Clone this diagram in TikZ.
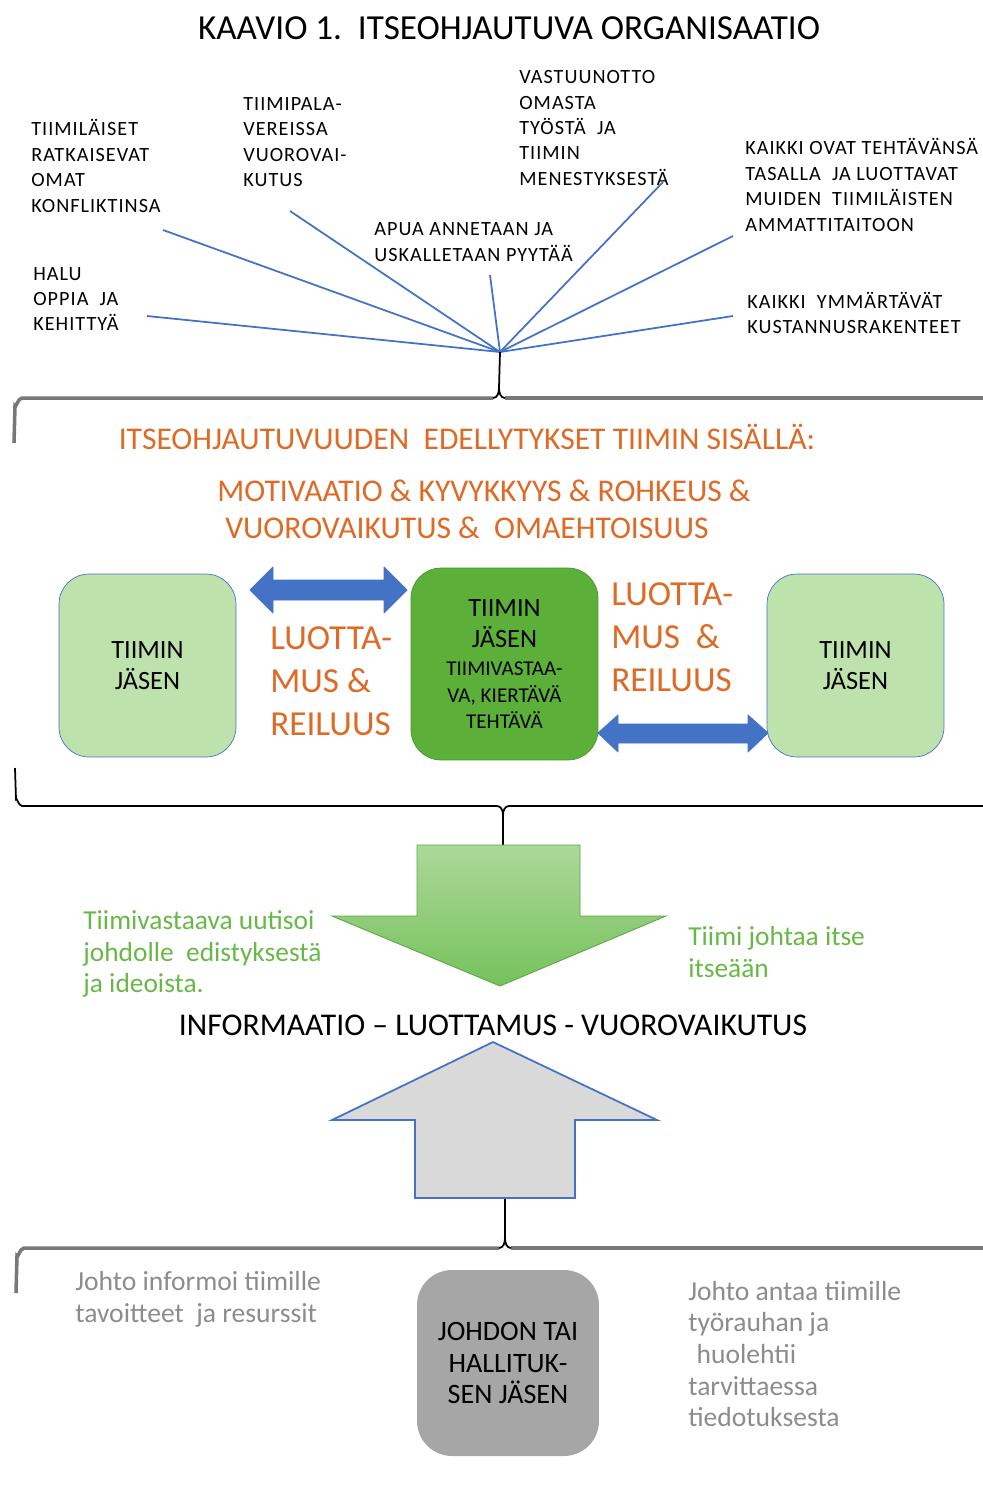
\documentclass[tikz,border=0pt]{standalone}
\usepackage{fontspec}
\setmainfont{Carlito}
\newfontfamily\capsfont[LetterSpace=5]{Carlito}
\usetikzlibrary{positioning}
\definecolor{linkblue}{RGB}{68,114,196}
\definecolor{orgtext}{RGB}{222,106,38}
\definecolor{lightgreen}{RGB}{190,226,172}
\definecolor{midgreen}{RGB}{92,176,58}
\definecolor{darkgreen}{RGB}{70,150,45}
\definecolor{greentext}{RGB}{104,184,72}
\definecolor{arrowtop}{RGB}{172,216,152}
\definecolor{arrowbot}{RGB}{118,194,92}
\definecolor{graytext}{RGB}{140,140,140}
\definecolor{graybox}{RGB}{166,166,166}
\definecolor{bracegray}{RGB}{120,120,120}
\tikzset{
toplbl/.style={font=\capsfont\fontsize{11.5}{14.5}\selectfont,align=left,anchor=west,inner sep=0pt},
spoke/.style={draw=linkblue,line width=1pt},
bracegr/.style={draw=bracegray,line width=2pt},
braceblk/.style={draw=black,line width=1pt},
member/.style={draw=linkblue,fill=lightgreen,rounded corners=0.6cm,minimum width=3.54cm,minimum height=3.66cm,
font=\fontsize{15}{18}\selectfont,align=center,inner sep=0pt},
leader/.style={draw=darkgreen,fill=midgreen,rounded corners=0.6cm,minimum width=3.74cm,minimum height=3.84cm,
font=\fontsize{15}{18}\selectfont,align=center,inner sep=0pt},
boardbox/.style={fill=graybox,rounded corners=0.7cm,minimum width=3.64cm,minimum height=3.72cm,
font=\fontsize{16}{18}\selectfont,align=center,inner sep=0pt},
orghead/.style={font=\fontsize{18}{21}\selectfont,text=orgtext,inner sep=0pt},
trust/.style={font=\fontsize{20}{24.5}\selectfont,text=orgtext,align=left,anchor=west,inner sep=0pt},
greenlbl/.style={font=\fontsize{15.6}{18}\selectfont,text=greentext,align=left,anchor=west,inner sep=0pt},
graylbl/.style={font=\fontsize{15.7}{18}\selectfont,text=graytext,align=left,anchor=west,inner sep=0pt},
blockarrow/.style={draw=linkblue,fill=linkblue,line width=0.5pt,line join=round}
}
\begin{document}
\begin{tikzpicture}[x=0.02cm,y=-0.02cm]
\useasboundingbox (0,0) rectangle (983,1512);

% otsikko
\node[font=\fontsize{20}{24}\selectfont,inner sep=0pt] (title) at (509,28) {KAAVIO 1.\ \ ITSEOHJAUTUVA ORGANISAATIO};

% ylaosan tekijat
\node[toplbl] (konfl) at (31,166) {TIIMILÄISET\\RATKAISEVAT\\OMAT\\KONFLIKTINSA};
\node[toplbl] (pala) at (243,142) {TIIMIPALA-\\VEREISSA\\VUOROVAI-\\KUTUS};
\node[toplbl] (vastuu) at (519,128) {VASTUUNOTTO\\OMASTA\\TYÖSTÄ\ \ JA\\TIIMIN\\MENESTYKSESTÄ};
\node[toplbl] (kaikki) at (745,185) {KAIKKI OVAT TEHTÄVÄNSÄ\\TASALLA\ \ JA LUOTTAVAT\\MUIDEN\ \ TIIMILÄISTEN\\AMMATTITAITOON};
\node[toplbl] (apua) at (374,242) {APUA ANNETAAN JA\\USKALLETAAN PYYTÄÄ};
\node[toplbl] (halu) at (33,299) {HALU\\OPPIA\ \ JA\\KEHITTYÄ};
\node[toplbl] (kust) at (747,313) {KAIKKI\ \ YMMÄRTÄVÄT\\KUSTANNUSRAKENTEET};

\coordinate (hub) at (500,352);
\coordinate (e1) at (147,316);
\coordinate (e2) at (163,230);
\coordinate (e3) at (290,211);
\coordinate (e4) at (490,275);
\coordinate (e5) at (663,182);
\coordinate (e6) at (733,236);
\coordinate (e7) at (733,316);
\foreach \e in {e1,e2,e3,e4,e5,e6,e7}
  \draw[spoke] (hub) -- (\e);

% ylempi sulje
\draw[bracegr] (14,443) -- (15,406) to[out=-90,in=180] (22,398) -- (493,398);
\draw[bracegr] (505,398) -- (990,398);
\draw[braceblk] (hub) -- (499,388) to[out=-90,in=0] (493,398);
\draw[braceblk] (499,388) to[out=-90,in=180] (505,398);

% edellytykset
\node[orghead] (cond) at (467,437) {ITSEOHJAUTUVUUDEN\ \ EDELLYTYKSET TIIMIN SISÄLLÄ:};
\node[orghead,align=left,anchor=west] (motiv) at (217,509) {MOTIVAATIO \& KYVYKKYYS \& ROHKEUS \&\\\hspace{0.25em}VUOROVAIKUTUS \&\ \ OMAEHTOISUUS};

% tiimin jasenet
\node[member] (memL) at (147.5,665.5) {TIIMIN\\JÄSEN};
\node[leader] (memC) at (504.5,664) {TIIMIN\\JÄSEN\\[-2.1pt]{\fontsize{12}{14}\selectfont TIIMIVASTAA-}\\[-2.7pt]
  {\fontsize{12}{14}\selectfont VA, KIERTÄVÄ}\\[-3.3pt]{\fontsize{12}{14}\selectfont TEHTÄVÄ}};
\node[member] (memR) at (855.5,665.5) {TIIMIN\\JÄSEN};

% kaksisuuntaiset nuolet
\draw[blockarrow] (250,590) -- (273,567) -- (273,580) -- (384,580) -- (384,567) -- (407,590)
  -- (384,613) -- (384,600) -- (273,600) -- (273,613) -- cycle;
\draw[blockarrow] (598,733) -- (618,715) -- (618,724) -- (748,724) -- (748,715) -- (768,733)
  -- (748,752) -- (748,743) -- (618,743) -- (618,752) -- cycle;

\node[trust] (trustL) at (270,681) {LUOTTA-\\MUS \&\\REILUUS};
\node[trust] (trustR) at (611,637) {LUOTTA-\\MUS\ \ \&\\REILUUS};

% alempi sulje
\draw[braceblk] (15,768) -- (16,799) to[out=90,in=180] (22,806) -- (497,806) to[out=0,in=90] (503,815) -- (503,845);
\draw[braceblk] (503,815) to[out=90,in=180] (509,806) -- (990,806);

% tieto ylospain
\draw[draw=darkgreen!80!lightgreen,line width=0.5pt,top color=arrowtop,bottom color=arrowbot]
  (417,845) -- (580,845) -- (580,916) -- (666,916) -- (500,986) -- (332,916) -- (417,916) -- cycle;
\node[greenlbl] (news) at (83,954) {Tiimivastaava uutisoi\\johdolle\ \ edistyksestä\\ja ideoista.};
\node[greenlbl] (self) at (688,952) {Tiimi johtaa itse\\itseään};

\node[font=\fontsize{18}{22}\selectfont,inner sep=0pt] (info) at (493,1025) {INFORMAATIO -- LUOTTAMUS - VUOROVAIKUTUS};

% johto alaspain
\draw[draw=linkblue,fill=black!15,line width=1pt]
  (493,1042) -- (657,1120) -- (575,1120) -- (575,1198) -- (415,1198) -- (415,1120) -- (332,1120) -- cycle;

\draw[bracegr] (16,1293) -- (17,1256) to[out=-90,in=180] (24,1248) -- (499,1248);
\draw[bracegr] (511,1248) -- (990,1248);
\draw[braceblk] (505,1199) -- (505,1238) to[out=-90,in=0] (499,1248);
\draw[braceblk] (505,1238) to[out=-90,in=180] (511,1248);

\node[boardbox] (board) at (508,1363) {JOHDON TAI\\HALLITUK-\\SEN JÄSEN};
\node[graylbl] (goals) at (75,1299) {Johto informoi tiimille\\tavoitteet\ \ ja resurssit};
\node[graylbl] (peace) at (688,1354) {Johto antaa tiimille\\työrauhan ja\\\hspace{0.3em}huolehtii\\tarvittaessa\\tiedotuksesta};
\end{tikzpicture}
\end{document}
